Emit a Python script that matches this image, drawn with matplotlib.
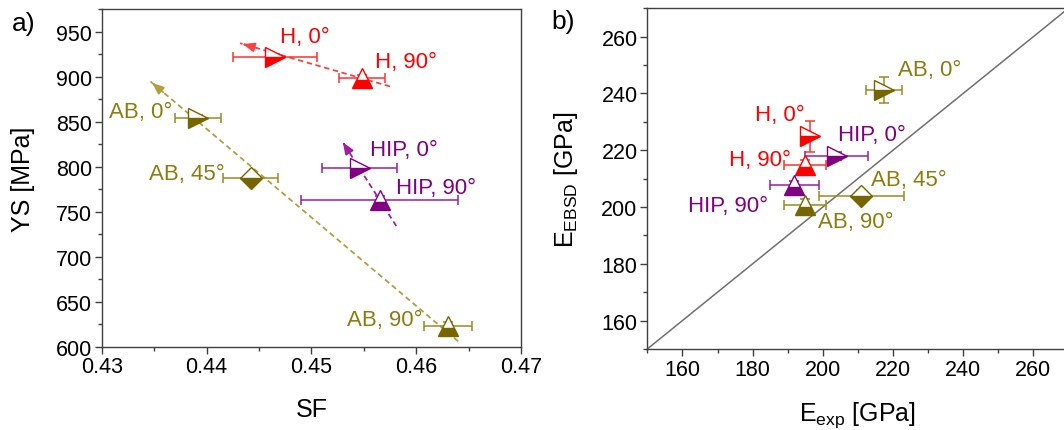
import numpy as np
import matplotlib
matplotlib.use("Agg")
import matplotlib.pyplot as plt

plt.rcParams['font.family'] = ['Liberation Sans', 'DejaVu Sans']

# panel a) yield strength vs Schmid factor
labels = ["H, 0°", "H, 90°", "AB, 0°", "AB, 45°", "AB, 90°", "HIP, 0°", "HIP, 90°"]
groups = ["H", "H", "AB", "AB", "AB", "HIP", "HIP"]
angles = [0, 90, 0, 45, 90, 0, 90]
sf = [0.4465, 0.4548, 0.4392, 0.4442, 0.4630, 0.4546, 0.4565]
sf_err = [0.0040, 0.0022, 0.0022, 0.0026, 0.0023, 0.0036, 0.0075]
ys = [922, 898, 854, 787, 623, 798, 763]
ys_err = [3, 4, 3, 5, 4, 3, 4]
label_a_x = [0.4470, 0.4561, 0.4367, 0.4417, 0.4606, 0.4556, 0.4581]
label_a_y = [945, 917, 861, 792, 630, 819, 777]

# trend arrows (start -> end) for panel a
arrow_groups = ["H", "AB", "HIP"]
arrow_sf = [(0.4575, 0.4432), (0.4640, 0.4346), (0.4581, 0.4530)]
arrow_ys = [(889, 937), (606, 895), (734, 827)]

# panel b) E_EBSD vs E_exp
e_exp = [196.4, 195.0, 217.5, 210.9, 195.0, 204.0, 191.9]
e_exp_err = [0.0, 6.0, 5.1, 12.1, 6.0, 9.0, 6.9]
e_ebsd = [224.9, 214.7, 241.3, 203.9, 200.7, 217.9, 207.7]
e_ebsd_err = [5.5, 2.0, 4.5, 2.0, 2.0, 1.5, 1.5]
label_b_x = [194.8, 190.8, 221.5, 213.6, 198.7, 204.4, 184.5]
label_b_y = [232.5, 216.8, 248.3, 209.8, 195.0, 225.5, 200.7]
label_b_ha = ["right", "right", "left", "left", "left", "left", "right"]

colors = {"H": "#ff0000", "AB": "#766500", "HIP": "#800080"}
bar_colors = {"H": "#ff3030", "AB": "#9a8a20", "HIP": "#9a209a"}
text_colors = {"H": "#ff0000", "AB": "#8c7d10", "HIP": "#800080"}
arrow_colors = {"H": "#ff4040", "AB": "#b0a040", "HIP": "#a020a0"}
markers = {0: ">", 45: "D", 90: "^"}
msizes = {0: 14, 45: 11, 90: 14}

fig = plt.figure(figsize=(10.64, 4.31), dpi=100)
ax1 = fig.add_axes([0.0956, 0.1933, 0.3941, 0.7835])
ax2 = fig.add_axes([0.6084, 0.1880, 0.3958, 0.7905])


def draw_points(ax, x, xe, y, ye):
    for i in range(len(x)):
        g = groups[i]
        a = angles[i]
        ax.errorbar(x[i], y[i], xerr=xe[i], yerr=ye[i], fmt="none",
                    ecolor=bar_colors[g], elinewidth=1.1, capsize=3.5,
                    capthick=1.1, zorder=3)
        ax.plot(x[i], y[i], marker=markers[a], ms=msizes[a], ls="none",
                color=colors[g], markeredgecolor=colors[g],
                fillstyle="bottom", markerfacecoloralt="white",
                mew=1.0, zorder=4)


draw_points(ax1, sf, sf_err, ys, ys_err)
for i in range(len(labels)):
    ha = "left" if groups[i] != "AB" else "right"
    ax1.text(label_a_x[i], label_a_y[i], labels[i], color=text_colors[groups[i]],
             fontsize=16, ha=ha, va="center")

for g, xs, yv in zip(arrow_groups, arrow_sf, arrow_ys):
    ax1.plot(xs, yv, ls=(0, (3, 2)), color=arrow_colors[g], lw=1.3, zorder=2)
    tail = (xs[1] - 0.05 * (xs[1] - xs[0]), yv[1] - 0.05 * (yv[1] - yv[0]))
    ax1.annotate("", xy=(xs[1], yv[1]), xytext=tail,
                 arrowprops=dict(arrowstyle="-|>,head_length=0.7,head_width=0.28",
                                 color=arrow_colors[g], lw=1.3))

ax1.set_xlim(0.43, 0.47)
ax1.set_ylim(600, 975)
ax1.set_xticks([0.43, 0.44, 0.45, 0.46, 0.47])
ax1.set_xticklabels(["0.43", "0.44", "0.45", "0.46", "0.47"])
ax1.set_xticks(np.arange(0.435, 0.47, 0.01), minor=True)
ax1.set_yticks(np.arange(600, 951, 50))
ax1.set_yticks(np.arange(625, 976, 50), minor=True)
ax1.set_xlabel("SF", fontsize=18)
ax1.set_ylabel("YS [MPa]", fontsize=18)
ax1.xaxis.set_label_coords(0.5, -0.149)
ax1.yaxis.set_label_coords(-0.159, 0.5)

# panel b
ax2.plot([150, 270], [150, 270], color="#707070", lw=1.1, zorder=1)
draw_points(ax2, e_exp, e_exp_err, e_ebsd, e_ebsd_err)
for i in range(len(labels)):
    ax2.text(label_b_x[i], label_b_y[i], labels[i], color=text_colors[groups[i]],
             fontsize=16, ha=label_b_ha[i], va="center")

ax2.set_xlim(150, 270)
ax2.set_ylim(150, 270)
ax2.set_xticks(np.arange(160, 261, 20))
ax2.set_xticks(np.arange(150, 271, 10), minor=True)
ax2.set_yticks(np.arange(160, 261, 20))
ax2.set_yticks(np.arange(150, 271, 10), minor=True)
ax2.set_xlabel(r"E$_{\mathregular{exp}}$ [GPa]", fontsize=18)
ax2.set_ylabel(r"E$_{\mathregular{EBSD}}$ [GPa]", fontsize=18)
ax2.xaxis.set_label_coords(0.5 * 420 / 421, -0.147)
ax2.yaxis.set_label_coords(-0.160, 0.5)

for ax in (ax1, ax2):
    for s in ax.spines.values():
        s.set_color("#404040")
        s.set_linewidth(1.0)
    ax.tick_params(which="major", direction="out", length=5, width=1.0,
                   labelsize=15.5, colors="#404040", labelcolor="black", pad=2)
    ax.tick_params(which="minor", direction="out", length=3, width=1.0,
                   colors="#404040")

fig.text(0.011, 0.944, "a)", fontsize=19, va="center")
fig.text(0.518, 0.948, "b)", fontsize=19, va="center")

fig.savefig("out.png", dpi=100)
